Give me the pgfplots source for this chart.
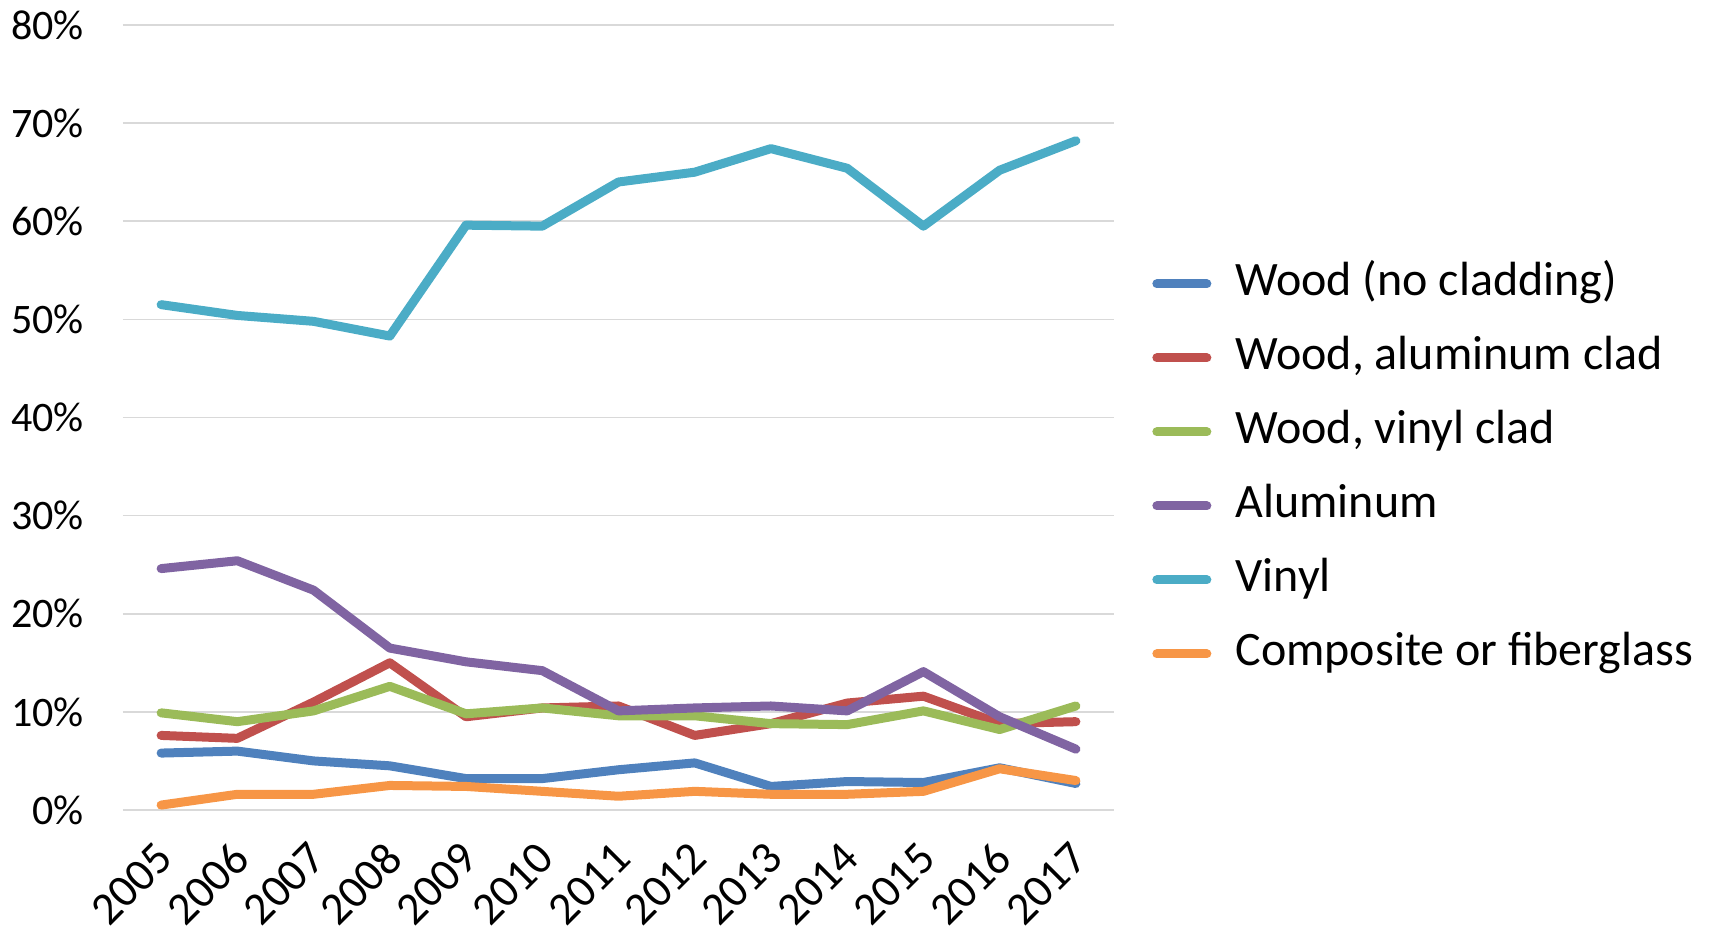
\documentclass[border=0pt]{standalone}
\usepackage{fontspec}
\setmainfont{Carlito}
\usepackage{pgfplots}
\pgfplotsset{compat=1.18}
\definecolor{cWood}{HTML}{4F81BD}
\definecolor{cWAl}{HTML}{C0504D}
\definecolor{cWVi}{HTML}{9BBB59}
\definecolor{cAl}{HTML}{8064A2}
\definecolor{cVi}{HTML}{4BACC6}
\definecolor{cCo}{HTML}{F79646}
\definecolor{cGrid}{HTML}{D9D9D9}
\begin{document}
\begin{tikzpicture}
\begin{axis}[
  at={(0pt,0pt)}, anchor=south west,
  scale only axis,
  width=495.5pt, height=392.5pt,
  xmin=2004.5, xmax=2017.5,
  ymin=0, ymax=80,
  xtick={2005,...,2017},
  xticklabels={2005,2006,2007,2008,2009,2010,2011,2012,2013,2014,2015,2016,2017},
  ytick={0,10,...,80},
  yticklabels={0\%,10\%,20\%,30\%,40\%,50\%,60\%,70\%,80\%},
  ymajorgrids,
  major grid style={draw=cGrid, line width=0.85pt},
  axis line style={draw=none},
  major tick length=0pt,
  tick label style={text=black},
  yticklabel style={font=\fontsize{21}{25}\selectfont, anchor=east, inner sep=0pt, xshift=-19.5pt},
  xticklabel style={font=\fontsize{23}{27}\selectfont, inner sep=0pt, anchor=east, xshift=2pt, yshift=-20.3pt, rotate=45},
  every axis plot/.append style={line width=4.5pt, line join=round, line cap=round},
  legend cell align=left,
  legend style={
    at={(axis description cs:1.0383,0.4344)}, anchor=west,
    draw=none, fill=none, inner sep=0pt,
    font=\fontsize{24}{28}\selectfont,
    row sep=15pt, column sep=12.1pt,
    nodes={inner sep=0pt, text height=17pt, text depth=5pt},
  },
  legend image code/.code={\draw[#1, line width=4.5pt, line cap=round] (0pt,0pt) -- (25pt,0pt);},
]
\addplot[cWood] coordinates {(2005,5.8)(2006,6.0)(2007,5.0)(2008,4.5)(2009,3.2)(2010,3.2)(2011,4.1)(2012,4.8)(2013,2.4)(2014,2.9)(2015,2.8)(2016,4.3)(2017,2.7)};
\addlegendentry{Wood (no cladding)}
\addplot[cWAl] coordinates {(2005,7.6)(2006,7.3)(2007,11.0)(2008,15.0)(2009,9.5)(2010,10.4)(2011,10.6)(2012,7.6)(2013,8.8)(2014,10.9)(2015,11.6)(2016,8.8)(2017,9.0)};
\addlegendentry{Wood, aluminum clad}
\addplot[cWVi] coordinates {(2005,9.9)(2006,9.0)(2007,10.1)(2008,12.6)(2009,9.8)(2010,10.4)(2011,9.6)(2012,9.6)(2013,8.8)(2014,8.7)(2015,10.1)(2016,8.2)(2017,10.6)};
\addlegendentry{Wood, vinyl clad}
\addplot[cAl] coordinates {(2005,24.6)(2006,25.4)(2007,22.4)(2008,16.5)(2009,15.1)(2010,14.2)(2011,10.1)(2012,10.4)(2013,10.6)(2014,10.1)(2015,14.1)(2016,9.5)(2017,6.2)};
\addlegendentry{Aluminum}
\addplot[cVi] coordinates {(2005,51.5)(2006,50.4)(2007,49.8)(2008,48.3)(2009,59.6)(2010,59.5)(2011,64.0)(2012,65.0)(2013,67.4)(2014,65.4)(2015,59.5)(2016,65.2)(2017,68.2)};
\addlegendentry{Vinyl}
\addplot[cCo] coordinates {(2005,0.5)(2006,1.6)(2007,1.6)(2008,2.5)(2009,2.4)(2010,1.9)(2011,1.4)(2012,1.9)(2013,1.6)(2014,1.6)(2015,1.9)(2016,4.2)(2017,3.0)};
\addlegendentry{Composite or fiberglass}
\end{axis}
\pgfresetboundingbox
\useasboundingbox (-61.5pt,-59.5pt) rectangle (793pt,405pt);
\end{tikzpicture}
\end{document}
